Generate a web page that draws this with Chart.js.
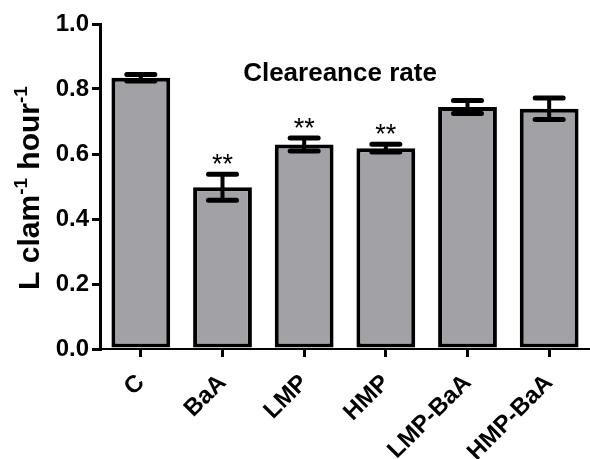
<!DOCTYPE html>
<html>
<head>
<meta charset="utf-8">
<script src="https://cdn.jsdelivr.net/npm/chart.js@4/dist/chart.umd.min.js"></script>
<style>
  body { margin: 0; background: #fff; }
  canvas { display: block; }
</style>
</head>
<body>
<canvas id="myChart" width="590" height="459"></canvas>
<script>
const categories = ['C', 'BaA', 'LMP', 'HMP', 'LMP-BaA', 'HMP-BaA'];
const means = [0.835, 0.498, 0.629, 0.618, 0.745, 0.739];
const errors = [0.010, 0.040, 0.020, 0.012, 0.020, 0.033];
const marks = ['', '**', '**', '**', '', ''];

const FONT = 'Liberation Sans, Arial, sans-serif';
Chart.defaults.font.family = FONT;
Chart.defaults.color = '#000';

// error bars + significance stars, placed through the y scale
const errorBars = {
    id: 'errorBars',
    afterDatasetsDraw(chart) {
        const c = chart.ctx;
        const y = chart.scales.y;
        const bars = chart.getDatasetMeta(0).data;
        c.save();
        c.strokeStyle = '#000';
        c.fillStyle = '#000';
        bars.forEach((bar, i) => {
            const top = y.getPixelForValue(means[i] + errors[i]);
            const bot = y.getPixelForValue(means[i] - errors[i]);
            c.lineWidth = 4;
            c.lineCap = 'butt';
            c.beginPath();
            c.moveTo(bar.x, top);
            c.lineTo(bar.x, bot);
            c.stroke();
            c.lineWidth = 5;
            c.lineCap = 'round';
            c.beginPath();
            c.moveTo(bar.x - 14, top);
            c.lineTo(bar.x + 14, top);
            c.moveTo(bar.x - 14, bot);
            c.lineTo(bar.x + 14, bot);
            c.stroke();
            if (marks[i]) {
                c.font = '27px ' + FONT;
                c.textAlign = 'center';
                c.textBaseline = 'alphabetic';
                c.fillText(marks[i], bar.x, top - 1);
            }
        });
        c.restore();
    }
};

// chart title and y axis title with superscripts
const labels = {
    id: 'labels',
    afterDraw(chart) {
        const c = chart.ctx;
        c.save();
        c.fillStyle = '#000';
        c.font = 'bold 26px ' + FONT;
        c.textAlign = 'center';
        c.textBaseline = 'alphabetic';
        c.fillText('Cleareance rate', 340, 81);

        const parts = [
            ['L clam', false], ['-1', true], [' hour', false], ['-1', true]
        ];
        const big = 'bold 30px ' + FONT, small = 'bold 19px ' + FONT;
        let total = 0;
        parts.forEach(p => {
            c.font = p[1] ? small : big;
            total += c.measureText(p[0]).width;
        });
        c.translate(39, 188);
        c.rotate(-Math.PI / 2);
        c.textAlign = 'left';
        let x = -total / 2;
        parts.forEach(p => {
            c.font = p[1] ? small : big;
            c.fillText(p[0], x, p[1] ? -12 : 0);
            x += c.measureText(p[0]).width;
        });
        c.restore();
    }
};

const chart = new Chart(document.getElementById('myChart'), {
    type: 'bar',
    data: {
        labels: categories,
        datasets: [{
            data: means,
            backgroundColor: '#a2a1a6',
            borderColor: '#000',
            borderWidth: 4,
            borderSkipped: false,
            barPercentage: 0.72,
            categoryPercentage: 1
        }]
    },
    options: {
        responsive: false,
        animation: false,
        layout: { padding: { top: 24, right: 0, left: 0, bottom: 0 } },
        plugins: {
            legend: { display: false },
            tooltip: { enabled: false }
        },
        scales: {
            x: {
                grid: { offset: false, drawOnChartArea: false, tickLength: 8, lineWidth: 3, color: '#000' },
                border: { color: '#000', width: 2 },
                ticks: {
                    autoSkip: false,
                    minRotation: 45,
                    maxRotation: 45,
                    padding: 12,
                    color: '#000',
                    font: { size: 24, weight: 'bold' }
                },
                afterFit(scale) { scale.height = 110; }
            },
            y: {
                min: 0,
                max: 1,
                grid: { drawOnChartArea: false, tickLength: 8, lineWidth: 3, color: '#000' },
                border: { color: '#000', width: 3 },
                ticks: {
                    stepSize: 0.2,
                    padding: 3,
                    color: '#000',
                    font: { size: 24, weight: 'bold' },
                    callback: v => v.toFixed(1)
                },
                afterFit(scale) { scale.width = 100; }
            }
        }
    },
    plugins: [errorBars, labels]
});
</script>
</body>
</html>
